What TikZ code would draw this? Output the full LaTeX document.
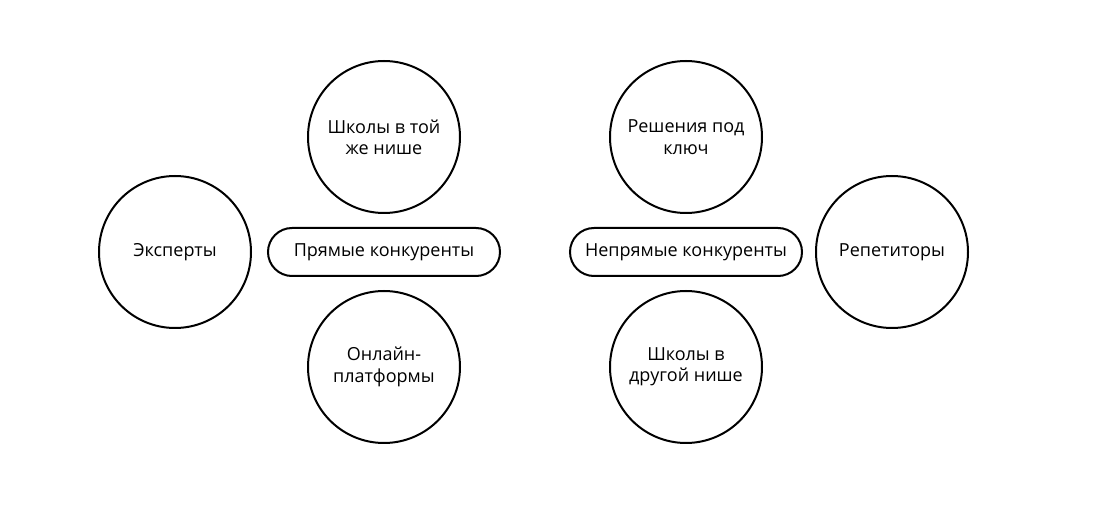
\documentclass[tikz,border=0pt]{standalone}
\usepackage{fontspec}
\newfontfamily\labelfont{Open Sans}

\begin{document}
\begin{tikzpicture}[x=0.75pt,y=-0.75pt,
  bubble/.style={draw, circle, line width=1.5pt, minimum size=114pt, inner sep=0pt, align=center, font=\labelfont\fontsize{13.5}{16}\selectfont},
  pill/.style={draw, rounded corners=18pt, line width=1.5pt, minimum width=174pt, minimum height=36pt, inner sep=0pt, font=\labelfont\fontsize{13.5}{16}\selectfont}]

\useasboundingbox (0,0) rectangle (1101,513);

% direct competitors
\node[pill] (direct) at (384,252) {Прямые конкуренты};
\node[bubble] (same) at (384,137) {Школы в той\\же нише};
\node[bubble] (online) at (384,367) {Онлайн-\\платформы};
\node[bubble] (experts) at (175,252) {Эксперты};

% indirect competitors
\node[pill] (indirect) at (686,252) {Непрямые конкуренты};
\node[bubble] (turnkey) at (686,137) {Решения под\\ключ};
\node[bubble] (other) at (686,367) {Школы в\\другой нише};
\node[bubble] (tutors) at (892,252) {Репетиторы};

\end{tikzpicture}
\end{document}
